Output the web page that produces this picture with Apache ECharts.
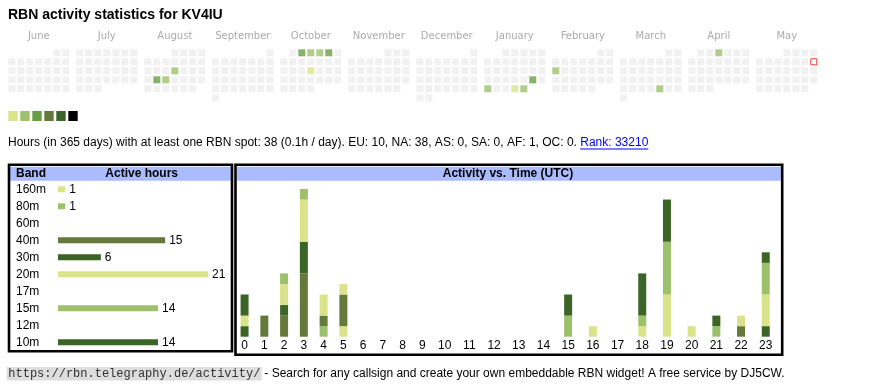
<!DOCTYPE html>
<html><head><meta charset="utf-8">
<script src="https://cdn.jsdelivr.net/npm/echarts@6/dist/echarts.min.js"></script>
<style>html,body{margin:0;padding:0;background:#fff}#c{width:870px;height:390px}</style>
</head><body><div id="c"></div><script>
// ---------- data ----------
const titleText = 'RBN activity statistics for KV4IU';
const monthNames = ['June','July','August','September','October','November','December','January','February','March','April','May'];
const monthStarts = ['2024-06','2024-07','2024-08','2024-09','2024-10','2024-11','2024-12','2025-01','2025-02','2025-03','2025-04','2025-05'];
const activeDays = ['2024-08-15','2024-08-20','2024-08-21','2024-10-02','2024-10-03','2024-10-04','2024-10-05','2024-10-17','2025-01-25','2025-01-27','2025-01-30','2025-01-31','2025-02-10','2025-03-28','2025-04-03'];
const activeLevels = [2,3,2,3,2,2,3,1,3,2,1,2,2,2,2];
const todayDate = '2025-05-11';
const levelColors = ['#eeeeee','#dbe38a','#9dc06b','#689f45','#65793a','#3b6427','#000000'];

const totalHours = 38;
const hoursPerDay = '0.1';
const continents = ['EU','NA','AS','SA','AF','OC'];
const continentHours = [10,38,0,0,1,0];
const rankValue = 33210;

const bands = ['160m','80m','60m','40m','30m','20m','17m','15m','12m','10m'];
const bandHours = [1,1,0,15,6,21,0,14,0,14];
const bandColors = ['#dbe38a','#9dc06b','#689f45','#65793a','#3b6427','#dbe38a','#689f45','#9dc06b','#65793a','#3b6427'];

const hourLabels = ['0','1','2','3','4','5','6','7','8','9','10','11','12','13','14','15','16','17','18','19','20','21','22','23'];
const h160 = [0,0,0,0,0,1,0,0,0,0,0,0,0,0,0,0,0,0,0,0,0,0,0,0];
const h80  = [0,0,0,0,1,0,0,0,0,0,0,0,0,0,0,0,0,0,0,0,0,0,0,0];
const h60  = [0,0,0,0,0,0,0,0,0,0,0,0,0,0,0,0,0,0,0,0,0,0,0,0];
const h40  = [0,2,2,6,1,3,0,0,0,0,0,0,0,0,0,0,0,0,0,0,0,0,1,0];
const h30  = [1,0,1,3,0,0,0,0,0,0,0,0,0,0,0,0,0,0,0,0,0,0,0,1];
const h20  = [1,0,2,4,2,1,0,0,0,0,0,0,0,0,0,0,1,0,1,4,1,0,1,3];
const h17  = [0,0,0,0,0,0,0,0,0,0,0,0,0,0,0,0,0,0,0,0,0,0,0,0];
const h15  = [0,0,1,1,0,0,0,0,0,0,0,0,0,0,0,2,0,0,1,5,0,1,0,3];
const h12  = [0,0,0,0,0,0,0,0,0,0,0,0,0,0,0,0,0,0,0,0,0,0,0,0];
const h10  = [2,0,0,0,0,0,0,0,0,0,0,0,0,0,0,2,0,0,4,4,0,1,0,1];
const hourly = [h160,h80,h60,h40,h30,h20,h17,h15,h12,h10];

const footerUrl = 'https://rbn.telegraphy.de/activity/';
const footerText = '- Search for any callsign and create your own embeddable RBN widget! A free service by DJ5CW.';

// ---------- build ----------
const SANS = '"Liberation Sans", Arial, sans-serif';
const MONO = '"Liberation Mono", "Courier New", monospace';
const chart = echarts.init(document.getElementById('c'), null, {renderer:'canvas'});

const levelOf = {};
activeDays.forEach((d,i)=>{ levelOf[d] = activeLevels[i]; });
const pad = n => (n<10?'0':'')+n;

const grids = [], xAxes = [], yAxes = [], series = [];
const dowCats = ['0','1','2','3','4','5','6'];
const rowCats = ['0','1','2','3','4','5'];
monthStarts.forEach((ms, m) => {
  const [yy, mm] = ms.split('-').map(Number);
  const first = new Date(Date.UTC(yy, mm-1, 1));
  const firstDow = (first.getUTCDay()+6)%7;
  const nDays = new Date(Date.UTC(yy, mm, 0)).getUTCDate();
  const cells = [], marks = [];
  for (let d=1; d<=nDays; d++){
    const key = ms+'-'+pad(d);
    const idx = firstDow + d - 1;
    const pt = [String(idx%7), String(Math.floor(idx/7))];
    if (key === todayDate) { marks.push(pt); continue; }
    const lv = levelOf[key] || 0;
    cells.push({value: pt, itemStyle:{color: levelColors[lv]}});
  }
  grids.push({left: 7.3 + m*68, top: 48.3, width: 63, height: 54});
  xAxes.push({type:'category', gridIndex:m, data:dowCats, position:'top',
    name: monthNames[m], nameLocation:'middle', nameGap: 7,
    nameTextStyle:{color:'#aaaaaa', fontSize:10, fontFamily:'"DejaVu Sans", sans-serif'},
    axisLine:{show:false}, axisTick:{show:false}, axisLabel:{show:false}, splitLine:{show:false}});
  yAxes.push({type:'category', gridIndex:m, data:rowCats, inverse:true, show:false});
  series.push({type:'scatter', xAxisIndex:m, yAxisIndex:m, symbol:'rect', symbolSize:7,
    data: cells, silent:true, animation:false});
  if (marks.length) series.push({type:'scatter', xAxisIndex:m, yAxisIndex:m, symbol:'rect', symbolSize:6,
    itemStyle:{color:'#ffffff', borderColor:'#ff0000', borderWidth:1}, data: marks, silent:true, animation:false});
});

// band chart
const gB = grids.length;
grids.push({left:58, top:180.8, width:150, height:170});
xAxes.push({type:'value', gridIndex:gB, min:0, max:Math.max(...bandHours), show:false});
yAxes.push({type:'category', gridIndex:gB, data:bands, inverse:true,
  axisLine:{show:false}, axisTick:{show:false}, splitLine:{show:false},
  axisLabel:{align:'left', margin:42, fontSize:12, color:'#000', fontFamily:SANS}});
series.push({type:'bar', xAxisIndex:gB, yAxisIndex:gB, barWidth:6, animation:false, silent:true,
  data: bandHours.map((v,i)=>({value:v, itemStyle:{color:bandColors[i]}})),
  label:{show:true, position:'right', distance:4, fontSize:12, color:'#000', fontFamily:SANS,
    formatter: p => p.value ? String(p.value) : ''}});

// activity chart: table-like columns, width grows with label length (like an HTML table)
const gA = grids.length;
const colW = hourLabels.map(l => 3 + l.length);
const colCenters = [];
let acc = 0;
colW.forEach(w => { colCenters.push(acc + w/2); acc += w; });
const totals = hourLabels.map((_,h)=>hourly.reduce((s,arr)=>s+arr[h],0));
grids.push({left:234.7, top:189, width:543.4, height:147.7});
xAxes.push({type:'value', gridIndex:gA, min:0, max:acc,
  axisLine:{show:false}, axisTick:{show:false}, splitLine:{show:false},
  axisLabel:{customValues: colCenters, margin:3, fontSize:12, color:'#000', fontFamily:SANS,
    formatter: v => { let bi=0, bd=1e9; colCenters.forEach((c,i)=>{ const d=Math.abs(c-v); if(d<bd){bd=d;bi=i;} }); return hourLabels[bi]; }}});
yAxes.push({type:'value', gridIndex:gA, min:0, max:Math.max(...totals), show:false});
bands.forEach((b,i)=>{
  series.push({type:'bar', name:b, stack:'hours', xAxisIndex:gA, yAxisIndex:gA, barWidth:8,
    animation:false, silent:true, itemStyle:{color:bandColors[i]},
    encode:{x:1, y:0},
    data: hourly[i].map((v,h)=>[v, colCenters[h]])});
});

// texts
const statsPlain = 'Hours (in 365 days) with at least one RBN spot: ' + totalHours + ' (' + hoursPerDay + 'h / day). ' +
  continents.map((c,i)=>c+': '+continentHours[i]).join(', ') + '. ';
const rankText = 'Rank: ' + rankValue;
const statsFont = '12px ' + SANS;
const mctx = document.createElement('canvas').getContext('2d');
mctx.font = statsFont;
const plainW = mctx.measureText(statsPlain).width;
const rankW = mctx.measureText(rankText).width;
mctx.font = '12px ' + MONO;
const urlW = mctx.measureText(footerUrl).width;

const graphic = [
  {type:'text', x:8, y:15.3, style:{text:titleText, font:'bold 14px '+SANS, fill:'#000', verticalAlign:'middle'}},
  ...levelColors.slice(1).map((c,i)=>({type:'rect', shape:{x:8.3+i*12, y:111, width:9.4, height:10}, style:{fill:c}})),
  {type:'text', x:8, y:143, style:{text:statsPlain, font:statsFont, fill:'#000', verticalAlign:'middle'}},
  {type:'text', x:8+plainW, y:143, style:{text:rankText, font:statsFont, fill:'#0000ee', verticalAlign:'middle'}},
  {type:'line', shape:{x1:8+plainW, y1:149, x2:8+plainW+rankW, y2:149}, style:{stroke:'#0000ee', lineWidth:1}},
  // boxes
  {type:'rect', shape:{x:10, y:166.7, width:221, height:14}, style:{fill:'#aabbff'}},
  {type:'rect', shape:{x:236.7, y:166.7, width:544.3, height:14}, style:{fill:'#aabbff'}},
  {type:'rect', shape:{x:9, y:164.7, width:223, height:186.6}, style:{fill:'none', stroke:'#000', lineWidth:2.6}},
  {type:'rect', shape:{x:235.5, y:164.7, width:546.7, height:190}, style:{fill:'none', stroke:'#000', lineWidth:2.6}},
  {type:'text', x:16, y:173.7, style:{text:'Band', font:'bold 12px '+SANS, fill:'#000', verticalAlign:'middle'}},
  {type:'text', x:141.7, y:173.7, style:{text:'Active hours', font:'bold 12px '+SANS, fill:'#000', align:'center', verticalAlign:'middle'}},
  {type:'text', x:508, y:173.7, style:{text:'Activity vs. Time (UTC)', font:'bold 12px '+SANS, fill:'#000', align:'center', verticalAlign:'middle'}},
  // footer
  {type:'rect', shape:{x:6.7, y:367, width:urlW+3, height:13.5}, style:{fill:'#dddddd'}},
  {type:'text', x:8.3, y:374, style:{text:footerUrl, font:'12px '+MONO, fill:'#333', verticalAlign:'middle'}},
  {type:'text', x:8.3+urlW+4, y:374, style:{text:footerText, font:statsFont, fill:'#000', verticalAlign:'middle'}}
];

chart.setOption({animation:false, grid:grids, xAxis:xAxes, yAxis:yAxes, series:series, graphic:graphic});
</script></body></html>
